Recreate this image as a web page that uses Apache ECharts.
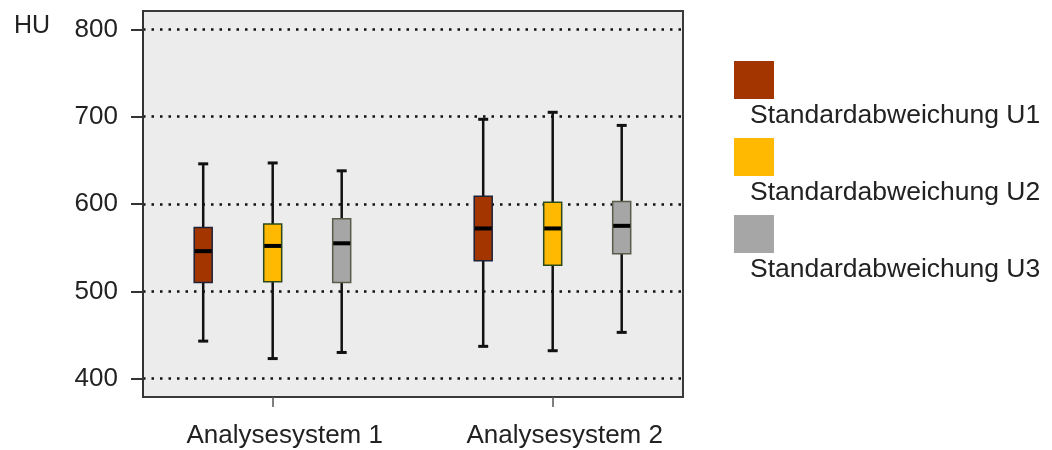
<!DOCTYPE html>
<html>
<head>
<meta charset="utf-8">
<script src="https://cdn.jsdelivr.net/npm/echarts@6/dist/echarts.min.js"></script>
<style>
  html, body { margin: 0; padding: 0; background: #ffffff; }
  #chart { width: 1052px; height: 450px; }
</style>
</head>
<body>
<div id="chart"></div>
<script>
// Categories on the x axis
const categories = ['Analysesystem 1', 'Analysesystem 2'];
// Series names (legend)
const seriesNames = ['Standardabweichung U1', 'Standardabweichung U2', 'Standardabweichung U3'];
// Box statistics per system: [min, Q1, median, Q3, max] in HU
const u1Values = [[443, 510, 546, 573, 646], [437, 535, 572, 609, 697]];
const u2Values = [[423, 511, 552, 577, 647], [432, 530, 572, 602, 705]];
const u3Values = [[430, 510, 555, 583, 638], [453, 543, 575, 603, 690]];
// Y axis tick labels
const yTickValues = [400, 500, 600, 700, 800];
const yUnit = 'HU';

// Styling
const fillColors = ['#a33600', '#ffb900', '#a6a6a6'];
const borderColors = ['#1d2338', '#2b4a1c', '#5b5b4a'];
const boxOffsets = [-69.5, 0, 69];
const FONT = '"Liberation Sans", Arial, sans-serif';
const TEXT_COLOR = '#222222';

const seriesValues = [u1Values, u2Values, u3Values];

function makeRenderer(offset, fill, stroke) {
  return function (params, api) {
    const cat = api.value(0);
    const cx = api.coord([cat, 0])[0] + offset;
    const y = (i) => api.coord([cat, api.value(i)])[1];
    const yMin = y(1), yQ1 = y(2), yMed = y(3), yQ3 = y(4), yMax = y(5);
    const bw = 18, cw = 10;
    return {
      type: 'group',
      children: [
        { type: 'line', shape: { x1: cx, y1: yMax, x2: cx, y2: yMin }, style: { stroke: '#111', lineWidth: 2.5 } },
        { type: 'line', shape: { x1: cx - cw / 2, y1: yMax, x2: cx + cw / 2, y2: yMax }, style: { stroke: '#111', lineWidth: 3 } },
        { type: 'line', shape: { x1: cx - cw / 2, y1: yMin, x2: cx + cw / 2, y2: yMin }, style: { stroke: '#111', lineWidth: 3 } },
        { type: 'rect', shape: { x: cx - bw / 2, y: yQ3, width: bw, height: yQ1 - yQ3 }, style: { fill: fill, stroke: stroke, lineWidth: 1.5 } },
        { type: 'line', shape: { x1: cx - bw / 2 + 0.5, y1: yMed, x2: cx + bw / 2 - 0.5, y2: yMed }, style: { stroke: '#000', lineWidth: 4 } }
      ]
    };
  };
}

const series = seriesNames.map((name, s) => ({
  name: name,
  type: 'custom',
  xAxisIndex: 1,
  yAxisIndex: 1,
  z: 5,
  encode: { x: 0, y: [1, 2, 3, 4, 5] },
  data: seriesValues[s].map((v, i) => [i].concat(v)),
  renderItem: makeRenderer(boxOffsets[s], fillColors[s], borderColors[s])
}));

// Legend: colour square with the name below it
const legendGraphics = [];
seriesNames.forEach((name, i) => {
  const top = 61 + i * 77;
  legendGraphics.push({
    type: 'rect', left: 734, top: top,
    shape: { width: 40, height: 38 },
    style: { fill: fillColors[i] }
  });
  legendGraphics.push({
    type: 'text', x: 750, y: top + 55,
    style: { text: name, font: '26.5px ' + FONT, fill: TEXT_COLOR, textVerticalAlign: 'middle' }
  });
});

const Y_MIN = 379, Y_MAX = 821;

const option = {
  animation: false,
  backgroundColor: '#ffffff',
  grid: [
    { left: 143, top: 11, width: 540, height: 386, show: true, backgroundColor: '#ececec', borderColor: '#3a3a3a', borderWidth: 2 },
    { left: 132.7, top: 11, width: 560, height: 386, show: false }
  ],
  xAxis: [
    { gridIndex: 0, type: 'value', show: false, min: 0, max: 1 },
    {
      gridIndex: 1, type: 'category', data: categories,
      axisLine: { show: false },
      axisTick: { show: true, alignWithLabel: true, length: 10, lineStyle: { color: '#555', width: 1.5 } },
      axisLabel: { fontSize: 26, fontFamily: FONT, color: TEXT_COLOR, margin: 26, padding: [0, 0, 0, 24] },
      splitLine: { show: false }
    }
  ],
  yAxis: [
    {
      gridIndex: 0, type: 'value', min: Y_MIN, max: Y_MAX,
      axisLine: { show: true, lineStyle: { color: '#333', width: 2 } },
      axisTick: { show: true, length: 12, customValues: yTickValues, lineStyle: { color: '#333', width: 2 } },
      axisLabel: { customValues: yTickValues, fontSize: 26, fontFamily: FONT, color: TEXT_COLOR, margin: 25 },
      splitLine: { show: true, lineStyle: { color: '#111', width: 2.5, type: [2.5, 6] } }
    },
    { gridIndex: 1, type: 'value', min: Y_MIN, max: Y_MAX, show: false, splitLine: { show: false } }
  ],
  graphic: [
    { type: 'text', x: 14, y: 26, style: { text: yUnit, font: '25px ' + FONT, fill: TEXT_COLOR, textVerticalAlign: 'middle' } }
  ].concat(legendGraphics),
  series: series
};

const chart = echarts.init(document.getElementById('chart'), null, { renderer: 'canvas' });
chart.setOption(option);
</script>
</body>
</html>
